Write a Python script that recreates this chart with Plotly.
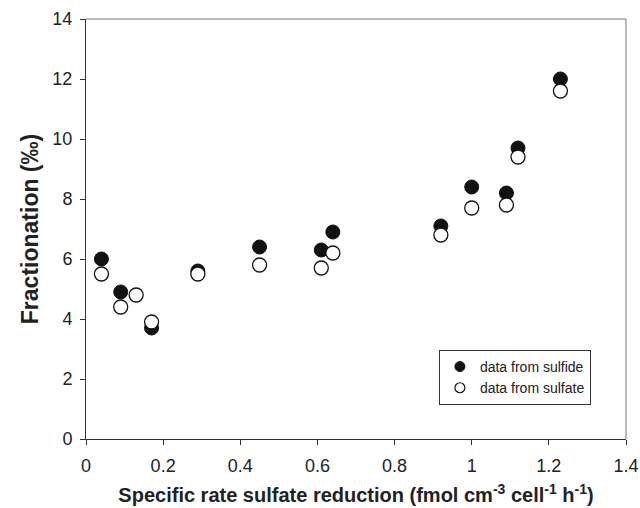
import plotly.graph_objects as go

x_sulfide = [0.04, 0.09, 0.17, 0.29, 0.45, 0.61, 0.64, 0.92, 1.00, 1.09, 1.12, 1.23]
y_sulfide = [6.0, 4.9, 3.7, 5.6, 6.4, 6.3, 6.9, 7.1, 8.4, 8.2, 9.7, 12.0]
x_sulfate = [0.04, 0.09, 0.13, 0.17, 0.29, 0.45, 0.61, 0.64, 0.92, 1.00, 1.09, 1.12, 1.23]
y_sulfate = [5.5, 4.4, 4.8, 3.9, 5.5, 5.8, 5.7, 6.2, 6.8, 7.7, 7.8, 9.4, 11.6]
x_ticks = [0, 0.2, 0.4, 0.6, 0.8, 1.0, 1.2, 1.4]
x_ticklabels = ["0", "0.2", "0.4", "0.6", "0.8", "1", "1.2", "1.4"]
y_ticks = [0, 2, 4, 6, 8, 10, 12, 14]

FONT = "Liberation Sans, Arial, sans-serif"
INK = "#222222"

fig = go.Figure()
# data traces (no legend entries)
fig.add_trace(go.Scatter(x=x_sulfide, y=y_sulfide, mode="markers", showlegend=False,
                         marker=dict(symbol="circle", size=14, color="#111111",
                                     line=dict(color="#111111", width=1))))
fig.add_trace(go.Scatter(x=x_sulfate, y=y_sulfate, mode="markers", showlegend=False,
                         marker=dict(symbol="circle", size=14, color="white",
                                     line=dict(color="#111111", width=1.3))))
# legend-only entries with smaller symbols
fig.add_trace(go.Scatter(x=[None], y=[None], mode="markers", name="data from sulfide",
                         marker=dict(symbol="circle", size=10, color="#111111",
                                     line=dict(color="#111111", width=1))))
fig.add_trace(go.Scatter(x=[None], y=[None], mode="markers", name="data from sulfate",
                         marker=dict(symbol="circle", size=10, color="white",
                                     line=dict(color="#111111", width=1.2))))

fig.update_layout(
    width=640, height=508,
    margin=dict(l=86, r=14, t=19, b=69),
    paper_bgcolor="white", plot_bgcolor="white",
    font=dict(family=FONT, color=INK),
    showlegend=True,
    legend=dict(x=0.935, y=0.212, xanchor="right", yanchor="top",
                bordercolor="#333333", borderwidth=1, bgcolor="white",
                font=dict(size=14, family=FONT, color=INK),
                itemwidth=30, tracegroupgap=0, itemsizing="trace"),
    xaxis=dict(range=[0, 1.4], tickmode="array",
               tickvals=x_ticks, ticktext=x_ticklabels,
               ticks="outside", ticklen=5, tickcolor="#333333",
               ticklabelstandoff=5, automargin=False,
               showline=True, linecolor="#333333", linewidth=1,
               showgrid=False, zeroline=False,
               tickfont=dict(size=18, family=FONT, color=INK),
               title=dict(text="<b>Specific rate sulfate reduction (fmol cm<sup>-3</sup> cell<sup>-1</sup> h<sup>-1</sup>)</b>",
                          font=dict(size=20, family=FONT, color=INK), standoff=13)),
    yaxis=dict(range=[0, 14], tickmode="array", tickvals=y_ticks,
               ticks="outside", ticklen=5, tickcolor="#333333",
               ticklabelstandoff=4, automargin=False,
               showline=True, linecolor="#333333", linewidth=1,
               showgrid=False, zeroline=False,
               tickfont=dict(size=18, family=FONT, color=INK),
               title=dict(text="<b>Fractionation (‰)</b>",
                          font=dict(size=23, family=FONT, color=INK), standoff=7)),
)

# top and right border of the plot area
fig.add_shape(type="line", xref="paper", yref="paper", x0=0, x1=1, y0=1, y1=1,
              line=dict(color="#777777", width=1))
fig.add_shape(type="line", xref="paper", yref="paper", x0=1, x1=1, y0=0, y1=1,
              line=dict(color="#777777", width=1))

fig.write_html("out.html")
